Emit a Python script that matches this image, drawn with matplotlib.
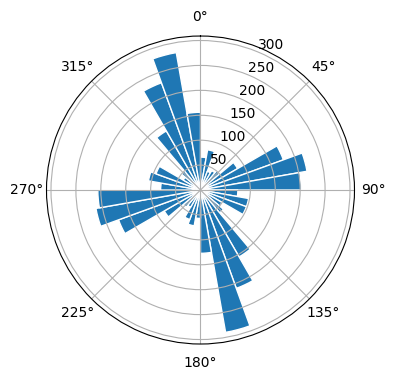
import numpy as np
import matplotlib
matplotlib.use("Agg")
import matplotlib.pyplot as plt

# Direction bins (left edge, degrees) and counts per bin
bin_start_deg = [0, 10, 20, 30, 40, 50, 60, 70, 80,
                 90, 100, 110, 120, 130, 140, 150, 160, 170,
                 180, 190, 200, 210, 220, 230, 240, 250, 260,
                 270, 280, 290, 300, 310, 320, 330, 340, 350]
counts = [66, 82, 40, 45, 50, 86, 177, 217, 202,
          75, 98, 98, 50, 60, 155, 210, 290, 127,
          57, 73, 63, 40, 45, 84, 175, 213, 206,
          80, 106, 95, 40, 50, 137, 229, 280, 156]
bin_width_deg = 10

fig = plt.figure(figsize=(3.96, 3.8), dpi=100)
ax = fig.add_axes([0.1174, 0.0947, 0.7778, 0.8105], projection="polar")
ax.set_theta_zero_location("N")
ax.set_theta_direction(-1)
ax.bar(np.deg2rad(bin_start_deg), counts, width=np.deg2rad(bin_width_deg),
       align="edge", color="#1f77b4", edgecolor="white")
ax.set_ylim(0, 309)
ax.set_yticks([50, 100, 150, 200, 250, 300])
fig.savefig("out.png", dpi=100)
